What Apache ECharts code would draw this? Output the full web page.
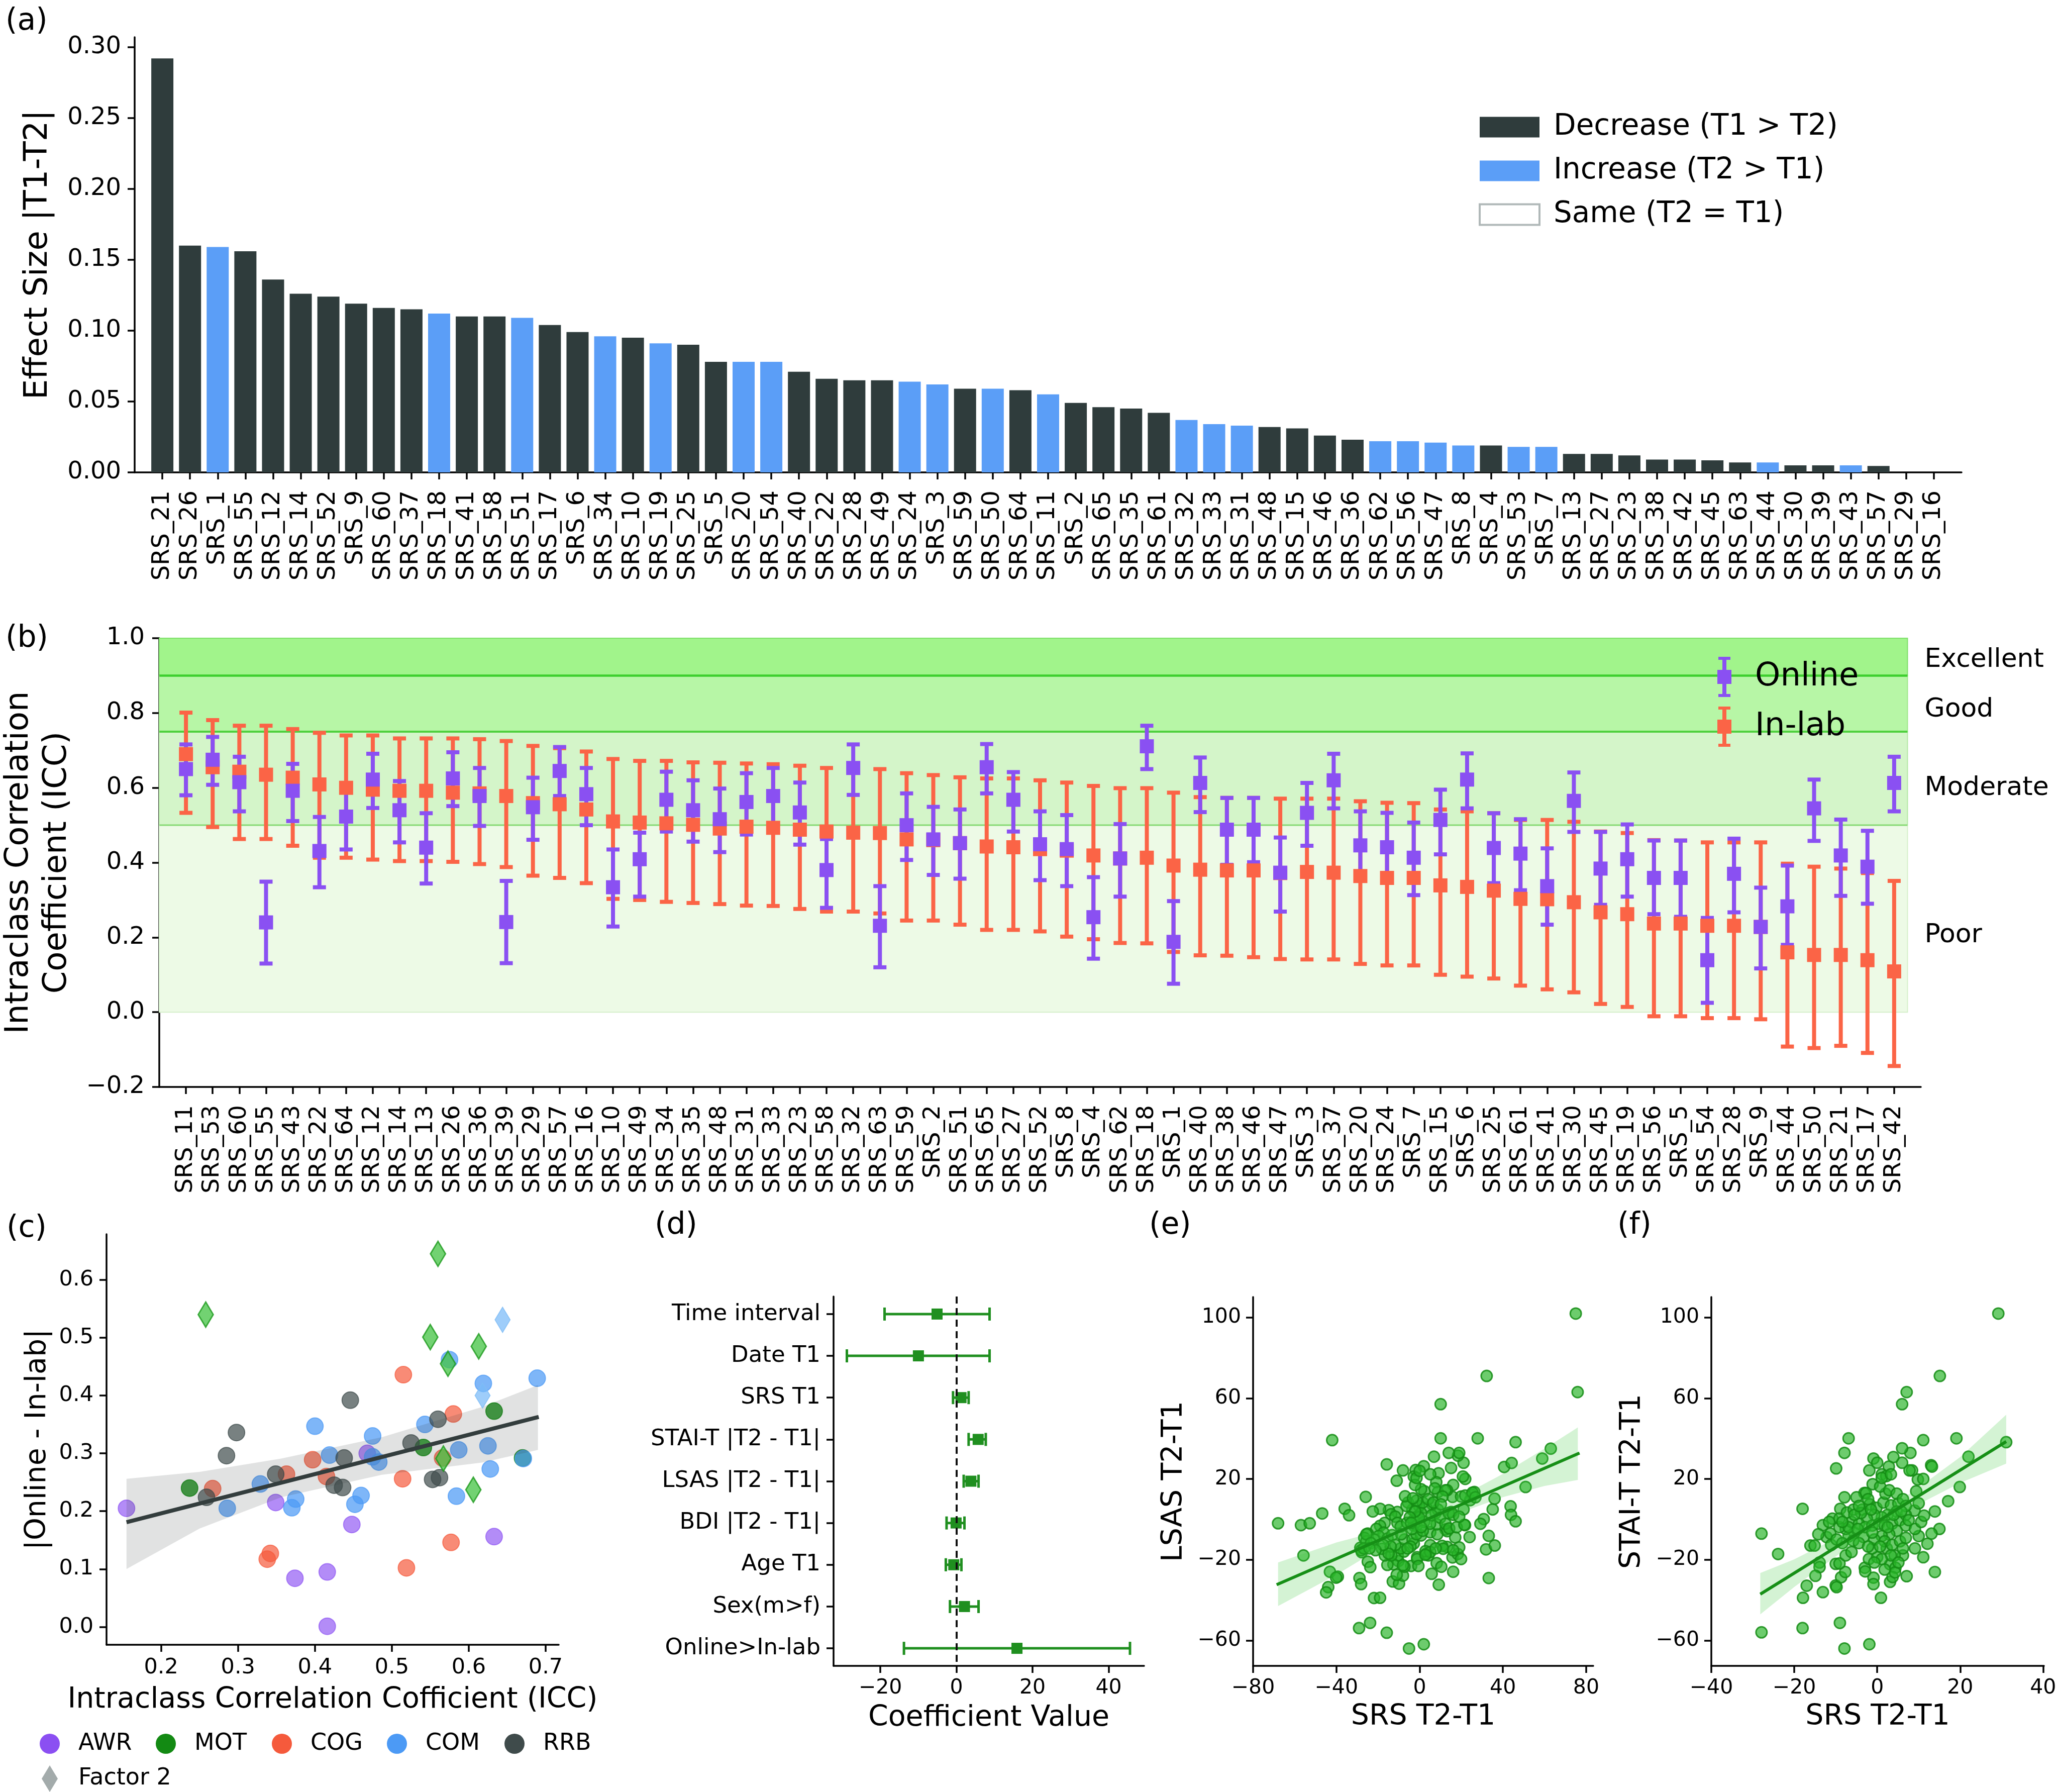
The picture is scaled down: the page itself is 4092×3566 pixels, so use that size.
<!DOCTYPE html>
<html><head><meta charset="utf-8">
<script src="https://cdn.jsdelivr.net/npm/echarts@6/dist/echarts.min.js"></script>
<style>html,body{margin:0;padding:0;background:#fff}#c{width:4092px;height:3566px}</style>
</head><body><div id="c"></div>
<script>
// ---------------- Panel (a) data ----------------
const aNames = ['SRS_21','SRS_26','SRS_1','SRS_55','SRS_12','SRS_14','SRS_52','SRS_9','SRS_60','SRS_37','SRS_18','SRS_41','SRS_58','SRS_51','SRS_17','SRS_6','SRS_34','SRS_10','SRS_19','SRS_25','SRS_5','SRS_20','SRS_54','SRS_40','SRS_22','SRS_28','SRS_49','SRS_24','SRS_3','SRS_59','SRS_50','SRS_64','SRS_11','SRS_2','SRS_65','SRS_35','SRS_61','SRS_32','SRS_33','SRS_31','SRS_48','SRS_15','SRS_46','SRS_36','SRS_62','SRS_56','SRS_47','SRS_8','SRS_4','SRS_53','SRS_7','SRS_13','SRS_27','SRS_23','SRS_38','SRS_42','SRS_45','SRS_63','SRS_44','SRS_30','SRS_39','SRS_43','SRS_57','SRS_29','SRS_16'];
const aEffect = [0.292,0.160,0.159,0.156,0.136,0.126,0.124,0.119,0.116,0.115,0.112,0.110,0.110,0.109,0.104,0.099,0.096,0.095,0.091,0.090,0.078,0.078,0.078,0.071,0.066,0.065,0.065,0.064,0.062,0.059,0.059,0.058,0.055,0.049,0.046,0.045,0.042,0.037,0.034,0.033,0.032,0.031,0.026,0.023,0.022,0.022,0.021,0.019,0.019,0.018,0.018,0.013,0.013,0.012,0.009,0.009,0.0085,0.007,0.007,0.005,0.005,0.005,0.0045,0,0];
const aDirection = ['D','D','I','D','D','D','D','D','D','D','I','D','D','I','D','D','I','D','I','D','D','I','I','D','D','D','D','I','I','D','I','D','I','D','D','D','D','I','I','I','D','D','D','D','I','I','I','I','D','I','I','D','D','D','D','D','D','D','I','D','D','I','D','S','S'];
const aLegendNames = {D:'Decrease (T1 > T2)', I:'Increase (T2 > T1)', S:'Same (T2 = T1)'};
const aTicks = [0,0.05,0.10,0.15,0.20,0.25,0.30];

// ---------------- Panel (b) data ----------------
const bNames = ['SRS_11','SRS_53','SRS_60','SRS_55','SRS_43','SRS_22','SRS_64','SRS_12','SRS_14','SRS_13','SRS_26','SRS_36','SRS_39','SRS_29','SRS_57','SRS_16','SRS_10','SRS_49','SRS_34','SRS_35','SRS_48','SRS_31','SRS_33','SRS_23','SRS_58','SRS_32','SRS_63','SRS_59','SRS_2','SRS_51','SRS_65','SRS_27','SRS_52','SRS_8','SRS_4','SRS_62','SRS_18','SRS_1','SRS_40','SRS_38','SRS_46','SRS_47','SRS_3','SRS_37','SRS_20','SRS_24','SRS_7','SRS_15','SRS_6','SRS_25','SRS_61','SRS_41','SRS_30','SRS_45','SRS_19','SRS_56','SRS_5','SRS_54','SRS_28','SRS_9','SRS_44','SRS_50','SRS_21','SRS_17','SRS_42'];
const onlineICC = [0.650,0.675,0.615,0.240,0.592,0.431,0.523,0.622,0.540,0.440,0.625,0.578,0.241,0.548,0.645,0.583,0.334,0.409,0.568,0.540,0.516,0.562,0.578,0.534,0.380,0.653,0.231,0.500,0.462,0.452,0.655,0.568,0.449,0.436,0.254,0.411,0.711,0.188,0.613,0.488,0.488,0.373,0.533,0.620,0.446,0.441,0.413,0.514,0.622,0.439,0.424,0.337,0.565,0.384,0.409,0.359,0.359,0.139,0.370,0.228,0.283,0.545,0.419,0.389,0.613];
const onlineLo = [0.580,0.608,0.537,0.130,0.511,0.334,0.435,0.546,0.454,0.344,0.551,0.498,0.131,0.461,0.578,0.500,0.229,0.309,0.483,0.456,0.428,0.475,0.498,0.448,0.279,0.581,0.120,0.407,0.367,0.357,0.585,0.483,0.353,0.337,0.143,0.309,0.650,0.076,0.535,0.394,0.401,0.269,0.445,0.545,0.355,0.350,0.313,0.422,0.545,0.345,0.326,0.234,0.482,0.287,0.309,0.262,0.255,0.025,0.267,0.117,0.180,0.458,0.311,0.290,0.537];
const onlineHi = [0.716,0.736,0.683,0.349,0.664,0.522,0.600,0.691,0.618,0.532,0.695,0.653,0.351,0.627,0.709,0.653,0.435,0.480,0.643,0.620,0.598,0.639,0.653,0.614,0.463,0.716,0.337,0.585,0.549,0.542,0.717,0.642,0.537,0.527,0.361,0.503,0.766,0.297,0.681,0.573,0.573,0.467,0.613,0.691,0.537,0.533,0.507,0.595,0.692,0.532,0.516,0.438,0.641,0.482,0.502,0.459,0.459,0.252,0.464,0.333,0.392,0.622,0.515,0.485,0.683];
const inlabICC = [0.690,0.655,0.643,0.635,0.627,0.609,0.600,0.595,0.592,0.592,0.587,0.585,0.578,0.559,0.556,0.542,0.510,0.507,0.505,0.501,0.491,0.496,0.493,0.488,0.483,0.480,0.479,0.462,0.460,0.452,0.443,0.441,0.436,0.432,0.419,0.411,0.413,0.392,0.381,0.379,0.379,0.372,0.375,0.373,0.364,0.359,0.359,0.339,0.335,0.325,0.303,0.302,0.294,0.267,0.262,0.237,0.237,0.231,0.231,0.228,0.160,0.153,0.153,0.139,0.109];
const inlabLo = [0.533,0.495,0.463,0.463,0.445,0.413,0.413,0.408,0.404,0.404,0.402,0.396,0.388,0.365,0.359,0.345,0.303,0.300,0.295,0.292,0.289,0.285,0.284,0.276,0.269,0.269,0.264,0.245,0.245,0.234,0.220,0.220,0.216,0.202,0.195,0.185,0.184,0.161,0.152,0.151,0.147,0.142,0.141,0.141,0.129,0.125,0.125,0.100,0.095,0.090,0.071,0.061,0.053,0.022,0.014,-0.011,-0.011,-0.016,-0.016,-0.019,-0.092,-0.096,-0.090,-0.109,-0.144];
const inlabHi = [0.801,0.781,0.766,0.766,0.757,0.747,0.740,0.740,0.732,0.732,0.732,0.730,0.725,0.712,0.706,0.697,0.677,0.672,0.672,0.668,0.667,0.665,0.663,0.659,0.653,0.650,0.650,0.639,0.634,0.628,0.625,0.625,0.620,0.614,0.605,0.599,0.599,0.587,0.575,0.573,0.573,0.571,0.571,0.571,0.564,0.560,0.559,0.542,0.537,0.532,0.514,0.514,0.509,0.483,0.479,0.460,0.459,0.454,0.454,0.454,0.397,0.389,0.384,0.372,0.351];
const bTicks = [-0.2,0,0.2,0.4,0.6,0.8,1.0];
const bandNames = ['Excellent','Good','Moderate','Poor'];
const bandLower = [0.9,0.75,0.5,0.0];
const bandUpper = [1.0,0.9,0.75,0.5];

// ---------------- Panel (c) data ----------------
const awrICC = [0.155,0.349,0.448,0.374,0.416,0.416,0.633,0.468];
const awrDiff = [0.205,0.215,0.177,0.084,0.095,0.001,0.156,0.300];
const motICC = [0.237,0.541,0.633,0.670];
const motDiff = [0.240,0.310,0.373,0.292];
const cogICC = [0.267,0.342,0.338,0.363,0.397,0.415,0.515,0.514,0.519,0.566,0.580,0.577];
const cogDiff = [0.239,0.127,0.117,0.264,0.289,0.260,0.436,0.256,0.102,0.292,0.368,0.146];
const comICC = [0.286,0.329,0.370,0.375,0.400,0.419,0.452,0.460,0.475,0.475,0.483,0.543,0.575,0.587,0.584,0.619,0.625,0.628,0.671,0.689];
const comDiff = [0.205,0.247,0.206,0.221,0.347,0.297,0.212,0.227,0.330,0.294,0.285,0.350,0.462,0.306,0.226,0.421,0.313,0.273,0.291,0.430];
const rrbICC = [0.259,0.285,0.298,0.349,0.425,0.436,0.438,0.446,0.525,0.553,0.562,0.560];
const rrbDiff = [0.224,0.296,0.336,0.264,0.245,0.241,0.292,0.392,0.318,0.255,0.258,0.359];
const f2GreenICC = [0.258,0.560,0.550,0.613,0.573,0.606,0.567];
const f2GreenDiff = [0.540,0.645,0.501,0.485,0.455,0.237,0.291];
const f2BlueICC = [0.644,0.618];
const f2BlueDiff = [0.531,0.400];
const cFitX = [0.155,0.691];
const cFitY = [0.181,0.363];
const cBandX = [0.155,0.25,0.356,0.487,0.617,0.69];
const cBandLo = [0.100,0.170,0.224,0.263,0.284,0.306];
const cBandHi = [0.256,0.268,0.291,0.328,0.380,0.418];
const cXTicks = [0.2,0.3,0.4,0.5,0.6,0.7];
const cYTicks = [0,0.1,0.2,0.3,0.4,0.5,0.6];

// ---------------- Panel (d) data ----------------
const dLabels = ['Time interval','Date T1','SRS T1','STAI-T |T2 - T1|','LSAS |T2 - T1|','BDI |T2 - T1|','Age T1','Sex(m>f)','Online>In-lab'];
const dCoef = [-5.1,-10.0,1.2,5.7,3.8,-0.1,-0.7,2.1,15.9];
const dLo = [-18.9,-28.8,-0.9,3.2,1.9,-2.6,-2.8,-1.7,-13.8];
const dHi = [8.7,8.7,3.2,7.7,5.8,2.1,1.3,5.8,45.6];
const dXTicks = [-20,0,20,40];

// ---------------- Panel (e) data ----------------
const eSRS = [75.0,75.9,32.2,10.1,-42.0,10.1,27.9,46.1,63.0,58.9,40.6,44.2,50.9,-68.0,-57.0,-52.8,-46.8,-36.0,-33.9,-55.8,-25.9,-43.1,-39.3,-40.1,-43.9,-44.9,-28.9,-28.1,-28.5,-27.8,-24.9,-23.7,-21.9,-19.0,-29.1,-23.8,-15.8,-5.1,2.0,-12.9,-9.9,-8.0,9.2,5.8,8.2,10.4,16.1,33.2,31.9,36.1,33.2,24.0,30.8,35.1,36.0,43.7,43.9,46.1,25.1,26.3,21.9,20.8,21.1,18.4,19.0,14.0,15.1,6.9,2.0,-1.9,-2.8,-8.0,-11.0,-15.8,9.1,8.0,5.1,2.3,16.1,15.8,19.9,24.3,21.1,15.2,21.8,12.4,13.2,17.1,15.8,18.3,19.9,13.2,10.8,11.3,5.1,3.2,4.2,-1.2,-4.1,-10.2,-10.5,-12.6,-15.5,-16.7,-18.1,-7.5,-9.1,-13.6,-7.3,-2.8,-3.4,0.7,5.1,8.5,8.2,7.7,8.8,6.1,3.2,-0.3,-3.5,-5.6,-6.3,-7.0,-10.7,-14.8,-13.7,-19.0,-11.7,-10.7,-9.1,-6.0,-2.9,-1.2,0.7,-2.9,-1.5,2.2,5.0,5.8,9.9,12.4,14.2,17.8,21.5,19.0,16.1,-16.8,-19.0,-20.8,-17.3,-19.7,-24.9,-26.6,-25.6,-21.9,-15.4,-13.2,-11.7,-13.9,-7.3,-8.0,-11.0,-14.9,-17.5,-1.2,-0.6,2.8,5.1,2.8,7.7,-4.4,-5.8,-8.8,-1.5,-3.7,1.5,1.5,4.1,6.6,8.8,13.2,7.3,0.7,-2.2,-1.5,0.0,12.4,11.0,10.2,13.9,16.1,19.0,21.9,25.4,26.8,29.2,-1.5,-3.2,-0.3,-2.2,-4.7,-4.1,0.7,-22.5,-25.6,-23.4,-21.2,-28.1,-26.8,-24.1];
const eLSAS = [101.9,63.0,71.0,57.0,39.2,40.1,40.1,38.2,35.0,30.1,25.9,27.9,16.0,-2.0,-2.9,-2.0,2.9,5.2,2.0,-17.9,11.1,-26.0,-28.4,-28.9,-33.6,-36.2,-29.1,-32.1,-14.1,-16.3,-21.0,-23.7,-39.0,-38.9,-53.9,-51.3,-56.2,-64.0,-61.9,-30.8,-31.9,-27.9,-32.4,-27.0,-21.7,-23.5,-26.0,-29.1,-14.9,-13.0,-8.2,-8.8,0.1,4.9,10.2,6.4,2.2,-1.0,12.3,13.5,20.0,21.2,28.0,31.5,32.9,32.9,25.4,31.0,26.3,24.4,21.2,24.2,19.1,27.2,22.8,18.4,22.3,13.9,17.0,11.1,11.3,9.5,4.9,3.6,-2.9,-5.0,-5.9,-9.0,-18.9,-17.2,-19.7,-13.7,-13.2,-14.6,-12.8,-17.0,-17.9,-18.8,-23.1,-20.7,-17.9,-22.3,-22.6,-17.9,-14.6,-16.0,-14.4,-17.9,-10.0,-12.0,-10.0,-8.0,-6.4,-7.4,-2.5,3.1,4.8,7.4,5.7,6.6,4.8,8.3,6.6,11.4,3.6,4.5,2.5,5.2,1.3,-1.8,-3.6,-1.7,-0.4,1.3,3.1,-3.1,-3.1,-1.3,-2.2,2.0,0.8,-2.2,-4.5,-3.9,-2.7,-13.9,-15.3,-1.8,-3.2,-4.8,-6.6,-8.3,-7.1,-9.2,-10.9,-10.0,-9.5,-7.8,-12.7,-13.5,-23.5,-22.8,-27.5,-17.0,-12.7,-19.7,-23.1,-15.8,-16.2,-17.6,-14.4,-13.5,-14.4,-7.4,-7.4,-4.8,-5.7,8.3,10.0,8.3,13.5,14.4,15.3,14.9,17.0,20.5,24.0,14.4,11.3,7.4,3.1,2.2,1.3,11.8,13.2,10.9,-2.2,9.2,10.4,1.0,3.9,1.0,-1.8,-3.9,3.9,-7.4,-11.8,-15.3,-15.3,-14.4,-14.4];
const eFitX = [-68.7,76.8];
const eFitY = [-32.4,32.8];
const eBandX = [-68,-40,-20,0,20,40,60,76];
const eBandLo = [-43.0,-27.5,-15.0,-4.5,3.5,11.0,16.5,19.5];
const eBandHi = [-21.4,-11.5,-6.0,1.5,11.5,22.5,35.0,45.5];
const eXTicks = [-80,-40,0,40,80];
const efYTicks = [-60,-20,20,60,100];

// ---------------- Panel (f) data ----------------
const fSRS = [29.2,15.1,7.1,6.0,-6.9,-7.9,-9.9,11.1,19.1,31.1,22.0,13.0,13.2,19.9,17.1,13.9,15.0,13.1,12.1,13.9,11.1,7.1,10.0,9.0,10.0,9.4,9.8,11.1,8.4,7.8,8.0,6.0,6.0,3.9,2.8,-0.9,0.0,-1.9,1.1,-1.1,-3.1,-5.0,-7.9,-8.9,-18.0,-27.9,-23.9,-16.1,-15.1,-13.1,-10.8,-12.2,-11.1,-13.9,-13.9,-14.9,-17.0,-17.9,-13.1,-10.0,-9.8,-8.7,-7.7,-10.0,-9.1,-9.0,-18.0,-27.9,-7.9,-1.9,0.9,-0.9,-0.9,-3.0,-2.0,0.0,3.1,4.4,3.1,3.7,4.3,6.2,4.2,2.3,-1.2,-3.3,-5.5,-6.9,-7.6,-6.2,-9.1,-9.1,-7.3,-5.7,-3.6,-1.8,-0.2,1.5,3.3,5.1,4.7,2.5,1.1,-0.7,-2.5,-4.4,-2.9,-1.2,0.4,1.8,3.6,5.5,6.9,6.9,4.7,2.9,1.1,-0.7,1.8,3.6,5.5,6.9,9.1,7.6,10.6,11.3,2.0,0.7,2.9,4.7,6.2,6.9,2.2,1.1,3.3,-2.7,-3.9,-5.5,-4.4,-11.3,-9.8,-8.4,-5.8,-4.4,-2.2,0.7,6.2,9.1,3.3,1.1,-0.7,-2.9,1.8,5.1,-7.6,-6.2,-6.9,-8.4,-11.6,-14.2,-4.7,-1.2,2.5,4.0,5.8,-1.5,-2.2];
const fSTAI = [101.9,71.0,63.0,57.0,40.1,32.9,25.2,39.2,40.1,38.2,31.0,26.8,26.1,16.0,9.0,3.9,-4.8,-7.1,-12.1,-26.1,-18.8,-28.2,-8.3,4.3,7.9,13.9,19.7,20.0,24.2,24.2,32.9,35.2,28.0,30.8,26.1,30.1,28.0,24.2,22.3,17.4,13.0,10.9,10.9,5.2,5.2,-7.1,-17.2,-13.0,-13.0,-2.9,0.3,-8.8,-12.7,-21.4,-23.7,-28.0,-32.9,-38.9,-36.1,-32.8,-33.6,-28.7,-26.1,-22.1,-21.9,-51.3,-53.9,-56.0,-64.0,-61.9,-38.9,-28.9,-32.1,-24.0,-19.7,-18.8,-22.3,-24.0,-31.0,-28.6,-26.3,-17.9,-17.9,-14.4,-14.4,-8.8,-6.6,-8.5,-4.8,-1.3,-3.9,0.4,3.4,4.8,4.8,7.4,5.7,8.3,6.9,7.9,3.9,2.2,1.0,2.2,0.4,-2.2,-3.9,-3.1,-2.2,-3.1,-2.2,-0.4,2.2,-3.1,-5.7,-7.4,-8.3,-10.0,-10.9,-12.7,-10.9,-9.2,-4.8,-0.4,-1.3,1.8,12.7,16.2,14.4,12.7,10.0,6.6,21.4,20.5,22.3,13.0,3.1,2.2,6.6,-7.1,-10.0,-11.8,-10.6,-11.8,-13.5,-13.5,-14.4,-14.4,-17.9,-19.7,-21.4,-25.8,-24.9,-21.4,-17.9,-16.2,-3.9,-1.3,-1.3,-7.4,-4.8,-6.6,-3.9,2.2,3.9,4.8,10.0];
const fFitX = [-28.2,31.1];
const fFitY = [-37.1,38.5];
const fBandX = [-28.2,-20,-10,0,10,20,31.1];
const fBandLo = [-47.1,-33.5,-18.4,-4.3,7.5,18.0,27.6];
const fBandHi = [-26.6,-19.8,-9.4,2.1,15.7,30.8,51.8];
const fXTicks = [-40,-20,0,20,40];

// ---------------- helpers ----------------
const FONT = 'DejaVu Sans';
const BLACK = '#000';
const fmt = (v, d) => (v < -1e-9 ? '\u2212' : '') + Math.abs(v).toFixed(d);

function valAxis(o) {
  const ticks = o.ticks;
  const lab = Object.assign({ color: BLACK, fontFamily: FONT, fontSize: 42, customValues: ticks }, o.label || {});
  const ax = {
    type: 'value', gridIndex: o.grid, min: o.min, max: o.max, inverse: !!o.inverse,
    nameMoveOverlap: false,
    axisLine: { show: true, onZero: false, lineStyle: { color: BLACK, width: 3.5 } },
    axisTick: { show: true, length: 14, customValues: ticks, lineStyle: { color: BLACK, width: 3.5 } },
    splitLine: { show: false },
    axisLabel: lab
  };
  if (o.name) {
    ax.name = o.name; ax.nameLocation = 'middle'; ax.nameGap = o.nameGap;
    ax.nameTextStyle = Object.assign({ color: BLACK, fontFamily: FONT, fontSize: 57 }, o.nameStyle || {});
  }
  return ax;
}

function vErr(color, lw, cap) {
  return function (params, api) {
    const x = api.value(0), lo = api.value(1), hi = api.value(2);
    const a = api.coord([x, lo]), b = api.coord([x, hi]);
    const st = { stroke: color, lineWidth: lw };
    return { type: 'group', children: [
      { type: 'line', shape: { x1: a[0], y1: a[1], x2: b[0], y2: b[1] }, style: st },
      { type: 'line', shape: { x1: a[0] - cap / 2, y1: a[1], x2: a[0] + cap / 2, y2: a[1] }, style: st },
      { type: 'line', shape: { x1: b[0] - cap / 2, y1: b[1], x2: b[0] + cap / 2, y2: b[1] }, style: st }
    ]};
  };
}
function hErr(color, lw, cap) {
  return function (params, api) {
    const lo = api.value(0), hi = api.value(1), y = api.value(2);
    const a = api.coord([lo, y]), b = api.coord([hi, y]);
    const st = { stroke: color, lineWidth: lw };
    return { type: 'group', children: [
      { type: 'line', shape: { x1: a[0], y1: a[1], x2: b[0], y2: b[1] }, style: st },
      { type: 'line', shape: { x1: a[0], y1: a[1] - cap / 2, x2: a[0], y2: a[1] + cap / 2 }, style: st },
      { type: 'line', shape: { x1: b[0], y1: b[1] - cap / 2, x2: b[0], y2: b[1] + cap / 2 }, style: st }
    ]};
  };
}
function bandSeries(xi, yi, xs, lo, hi, fill) {
  return {
    type: 'custom', xAxisIndex: xi, yAxisIndex: yi, silent: true, z: 3,
    data: xs.map((x, i) => [x, lo[i], hi[i]]),
    renderItem: function (params, api) {
      if (params.dataIndex !== 0) return null;
      const pts = [];
      xs.forEach((x, i) => pts.push(api.coord([x, hi[i]])));
      for (let i = xs.length - 1; i >= 0; i--) pts.push(api.coord([xs[i], lo[i]]));
      return { type: 'polygon', shape: { points: pts }, style: { fill: fill } };
    }
  };
}
const pairs = (xs, ys) => xs.map((x, i) => [x, ys[i]]);

// ---------------- colours ----------------
const cDecrease = '#2f3c3c', cIncrease = '#5b9ef7';
const cOnline = '#8a50f2', cInlab = '#fb6446';
const bandFill = ['#a1f48b', '#b7f6a6', '#d4f5c9', '#edfae6'];
const bandEdge = ['#7fe06a', '#9fe98c', '#b5e9a6', '#d5f0cb'];
const bandLineColor = ['#3ccf2c', '#4fd03e', '#86da74'];
const bandLineWidth = [4.5, 4, 3];
const bandLabelDy = [6, 12, 19, 33];
const catColor = { AWR: '#8b4ff2', MOT: '#138a13', COG: '#f55a3c', COM: '#4c9af5', RRB: '#3f4b4b' };
const greenPt = 'rgba(40,180,40,0.68)', greenEdge = 'rgba(20,140,20,0.85)';

// ---------------- option ----------------
const errIcon = 'path://M2,0H26V6H18V26H28V54H18V74H26V80H2V74H10V54H0V26H10V6H2Z';

const series = [];

// (a) bars
['D', 'I', 'S'].forEach(k => {
  const style = k === 'D' ? { color: cDecrease } : k === 'I' ? { color: cIncrease } : { color: 'rgba(255,255,255,0)', borderWidth: 0 };
  series.push({
    type: 'bar', name: aLegendNames[k], xAxisIndex: 0, yAxisIndex: 0, barWidth: 44, barGap: '-100%',
    itemStyle: style,
    data: aNames.map((n, i) => aDirection[i] === k ? [i, aEffect[i]] : null).filter(d => d)
  });
});

// (b) bands
series.push({
  type: 'custom', xAxisIndex: 1, yAxisIndex: 1, silent: true, clip: false, z: 1,
  data: bandLower.map((l, i) => [l, bandUpper[i]]),
  renderItem: function (params, api) {
    const i = params.dataIndex;
    const lo = api.value(0), hi = api.value(1);
    const p1 = api.coord([-1, hi]), p2 = api.coord([64.5, lo]);
    const ch = [
      { type: 'rect', shape: { x: p1[0], y: p1[1], width: p2[0] - p1[0], height: p2[1] - p1[1] }, style: { fill: bandFill[i], stroke: bandEdge[i], lineWidth: 2 } },
      { type: 'text', style: { text: bandNames[i], x: p2[0] + 34, y: (p1[1] + p2[1]) / 2 + bandLabelDy[i], verticalAlign: 'middle', align: 'left', fontSize: 52, fontFamily: FONT, fill: BLACK } }
    ];
    if (i < 3) ch.push({ type: 'line', z2: 10, shape: { x1: p1[0], y1: p2[1], x2: p2[0], y2: p2[1] }, style: { stroke: bandLineColor[i], lineWidth: bandLineWidth[i] } });
    return { type: 'group', children: ch };
  }
});
// (b) error bars: In-lab first, Online on top
series.push({ type: 'custom', name: 'In-lab', xAxisIndex: 1, yAxisIndex: 1, z: 3, clip: false,
  data: bNames.map((n, i) => [i, inlabLo[i], inlabHi[i]]), renderItem: vErr(cInlab, 8, 26) });
series.push({ type: 'scatter', name: 'In-lab', xAxisIndex: 1, yAxisIndex: 1, z: 3, symbol: 'rect', symbolSize: 28,
  itemStyle: { color: cInlab, opacity: 1 }, data: bNames.map((n, i) => [i, inlabICC[i]]) });
series.push({ type: 'custom', name: 'Online', xAxisIndex: 1, yAxisIndex: 1, z: 3, clip: false,
  data: bNames.map((n, i) => [i, onlineLo[i], onlineHi[i]]), renderItem: vErr(cOnline, 8, 26) });
series.push({ type: 'scatter', name: 'Online', xAxisIndex: 1, yAxisIndex: 1, z: 3, symbol: 'rect', symbolSize: 28,
  itemStyle: { color: cOnline, opacity: 1 }, data: bNames.map((n, i) => [i, onlineICC[i]]) });

// (c) scatter
const cGroups = [['AWR', awrICC, awrDiff, 0.65], ['MOT', motICC, motDiff, 0.8], ['COG', cogICC, cogDiff, 0.7], ['COM', comICC, comDiff, 0.72], ['RRB', rrbICC, rrbDiff, 0.7]];
cGroups.forEach(g => {
  series.push({ type: 'scatter', name: g[0], xAxisIndex: 2, yAxisIndex: 2, symbol: 'circle', symbolSize: 33, z: 2,
    itemStyle: { color: catColor[g[0]], opacity: g[3], borderColor: catColor[g[0]], borderWidth: 2 },
    data: pairs(g[1], g[2]) });
});
series.push({ type: 'scatter', name: 'Factor 2', xAxisIndex: 2, yAxisIndex: 2, symbol: 'diamond', symbolSize: [30, 50], z: 4,
  itemStyle: { color: 'rgba(70,196,70,0.95)', borderColor: '#1d9a1d', borderWidth: 3 }, data: pairs(f2GreenICC, f2GreenDiff) });
series.push({ type: 'scatter', name: 'Factor 2', xAxisIndex: 2, yAxisIndex: 2, symbol: 'diamond', symbolSize: [30, 50], z: 4,
  itemStyle: { color: 'rgba(120,186,248,0.9)', borderColor: '#80bdf5', borderWidth: 2 }, data: pairs(f2BlueICC, f2BlueDiff) });
series.push(bandSeries(2, 2, cBandX, cBandLo, cBandHi, 'rgba(51,61,61,0.15)'));
series.push({ type: 'line', xAxisIndex: 2, yAxisIndex: 2, symbol: 'none', z: 3, silent: true,
  lineStyle: { color: '#333d3d', width: 8 }, data: pairs(cFitX, cFitY) });

// (d) coefficients
series.push({ type: 'custom', xAxisIndex: 3, yAxisIndex: 3, z: 3,
  data: dLabels.map((n, i) => [dLo[i], dHi[i], i]), renderItem: hErr('#1f8f1f', 5, 26) });
series.push({ type: 'scatter', xAxisIndex: 3, yAxisIndex: 3, z: 3, symbol: 'rect', symbolSize: 22,
  itemStyle: { color: '#1f8f1f', opacity: 1 }, data: dLabels.map((n, i) => [dCoef[i], i]) });
series.push({ type: 'line', xAxisIndex: 3, yAxisIndex: 3, data: [], z: 6,
  markLine: { silent: true, symbol: 'none', label: { show: false },
    lineStyle: { color: '#111', type: [14, 9], width: 4 }, data: [{ xAxis: 0 }] } });

// (e) and (f)
series.push({ type: 'scatter', xAxisIndex: 4, yAxisIndex: 4, symbolSize: 22, z: 2,
  itemStyle: { color: greenPt, borderColor: greenEdge, borderWidth: 3, opacity: 1 }, data: pairs(eSRS, eLSAS) });
series.push(bandSeries(4, 4, eBandX, eBandLo, eBandHi, 'rgba(60,200,60,0.22)'));
series.push({ type: 'line', xAxisIndex: 4, yAxisIndex: 4, symbol: 'none', z: 3, silent: true,
  lineStyle: { color: '#168f16', width: 6 }, data: pairs(eFitX, eFitY) });
series.push({ type: 'scatter', xAxisIndex: 5, yAxisIndex: 5, symbolSize: 22, z: 2,
  itemStyle: { color: greenPt, borderColor: greenEdge, borderWidth: 3, opacity: 1 }, data: pairs(fSRS, fSTAI) });
series.push(bandSeries(5, 5, fBandX, fBandLo, fBandHi, 'rgba(60,200,60,0.22)'));
series.push({ type: 'line', xAxisIndex: 5, yAxisIndex: 5, symbol: 'none', z: 3, silent: true,
  lineStyle: { color: '#168f16', width: 6 }, data: pairs(fFitX, fFitY) });

const idx = n => Array.from({ length: n }, (_, i) => i);

const option = {
  animation: false,
  backgroundColor: '#ffffff',
  textStyle: { fontFamily: FONT },
  title: [
    { text: '(a)', left: 6, top: 8 },
    { text: '(b)', left: 6, top: 1236 },
    { text: '(c)', left: 8, top: 2410 },
    { text: '(d)', left: 1298, top: 2404 },
    { text: '(e)', left: 2282, top: 2404 },
    { text: '(f)', left: 3214, top: 2404 }
  ].map(t => Object.assign(t, { textStyle: { fontFamily: FONT, fontSize: 60, fontWeight: 'normal', color: BLACK } })),
  grid: [
    { left: 268, top: 74, width: 3636, height: 866 },
    { left: 317, top: 1270, width: 3506, height: 893 },
    { left: 212, top: 2456, width: 900, height: 817 },
    { left: 1659, top: 2580, width: 618, height: 735 },
    { left: 2494, top: 2581, width: 677, height: 734 },
    { left: 3406, top: 2581, width: 662, height: 734 }
  ].map(g => Object.assign(g, { containLabel: false, outerBoundsMode: 'none' })),
  xAxis: [
    valAxis({ grid: 0, min: -1, max: 65, ticks: idx(aNames.length),
      label: { fontSize: 48, rotate: 90, margin: 36, formatter: v => aNames[Math.round(v)] } }),
    valAxis({ grid: 1, min: -1, max: 65, ticks: idx(bNames.length),
      label: { fontSize: 47, rotate: 90, margin: 36, formatter: v => bNames[Math.round(v)] } }),
    valAxis({ grid: 2, min: 0.129, max: 0.717, ticks: cXTicks,
      label: { fontSize: 43, margin: 24, formatter: v => fmt(v, 1) },
      name: 'Intraclass Correlation Cofficient (ICC)', nameGap: 82 }),
    valAxis({ grid: 3, min: -32.3, max: 49.3, ticks: dXTicks,
      label: { fontSize: 41, margin: 24, formatter: v => fmt(v, 0) },
      name: 'Coefficient Value', nameGap: 76 }),
    valAxis({ grid: 4, min: -80, max: 83.4, ticks: eXTicks,
      label: { fontSize: 41, margin: 24, formatter: v => fmt(v, 0) },
      name: 'SRS T2-T1', nameGap: 74 }),
    valAxis({ grid: 5, min: -40, max: 40.2, ticks: fXTicks,
      label: { fontSize: 41, margin: 24, formatter: v => fmt(v, 0) },
      name: 'SRS T2-T1', nameGap: 74 })
  ],
  yAxis: [
    valAxis({ grid: 0, min: 0, max: 0.307, ticks: aTicks,
      label: { fontSize: 48, margin: 27, formatter: v => fmt(v, 2) },
      name: 'Effect Size |T1-T2|', nameGap: 160, nameStyle: { fontSize: 64 } }),
    valAxis({ grid: 1, min: -0.2, max: 1.0, ticks: bTicks,
      label: { fontSize: 48, margin: 29, formatter: v => fmt(v, 1) },
      name: 'Intraclass Correlation\nCoefficient (ICC)', nameGap: 165, nameStyle: { fontSize: 64, lineHeight: 76 } }),
    valAxis({ grid: 2, min: -0.031, max: 0.679, ticks: cYTicks,
      label: { fontSize: 43, margin: 26, formatter: v => fmt(v, 1) },
      name: '|Online - In-lab|', nameGap: 108 }),
    valAxis({ grid: 3, min: -0.42, max: 8.42, inverse: true, ticks: idx(dLabels.length),
      label: { fontSize: 45, margin: 26, formatter: v => dLabels[Math.round(v)] } }),
    valAxis({ grid: 4, min: -72.6, max: 110.1, ticks: efYTicks,
      label: { fontSize: 41, margin: 24, formatter: v => fmt(v, 0) },
      name: 'LSAS T2-T1', nameGap: 128 }),
    valAxis({ grid: 5, min: -72.6, max: 110.1, ticks: efYTicks,
      label: { fontSize: 41, margin: 24, formatter: v => fmt(v, 0) },
      name: 'STAI-T T2-T1', nameGap: 128 })
  ],
  legend: [
    { orient: 'vertical', left: 2938, top: 219, itemWidth: 119, itemHeight: 41, itemGap: 29, selectedMode: false,
      textStyle: { fontFamily: FONT, fontSize: 58, color: BLACK, lineHeight: 41, padding: [0, 0, 0, 23] },
      data: [
        { name: aLegendNames.D, icon: 'rect', itemStyle: { color: cDecrease } },
        { name: aLegendNames.I, icon: 'rect', itemStyle: { color: cIncrease } },
        { name: aLegendNames.S, icon: 'rect', itemStyle: { color: '#ffffff', borderColor: '#b0b8b8', borderWidth: 4 } }
      ] },
    { orient: 'vertical', left: 3413, top: 1302, itemWidth: 28, itemHeight: 80, itemGap: 19, selectedMode: false,
      textStyle: { fontFamily: FONT, fontSize: 64, color: BLACK, lineHeight: 80, padding: [0, 0, 0, 42] },
      data: [
        { name: 'Online', icon: errIcon, itemStyle: { color: cOnline, opacity: 1 } },
        { name: 'In-lab', icon: errIcon, itemStyle: { color: cInlab, opacity: 1 } }
      ] }
  ].concat(['AWR', 'MOT', 'COG', 'COM', 'RRB'].map((n, i) => ({
      left: [74, 305, 536, 765, 999][i], top: 3442, itemWidth: 40, itemHeight: 40, selectedMode: false,
      textStyle: { fontFamily: FONT, fontSize: 46, color: BLACK, lineHeight: 40, padding: [0, 0, 0, 32] },
      data: [{ name: n, icon: 'circle', itemStyle: { color: catColor[n], opacity: 1, borderWidth: 0 } }]
    }))).concat([
    { left: 78, top: 3508, itemWidth: 32, itemHeight: 53, selectedMode: false,
      textStyle: { fontFamily: FONT, fontSize: 46, color: BLACK, lineHeight: 53, padding: [0, 0, 0, 36] },
      data: [{ name: 'Factor 2', icon: 'diamond', itemStyle: { color: '#a3abab', opacity: 1, borderWidth: 0 } }] }
  ]),
  series: series
};

const chart = echarts.init(document.getElementById('c'), null, { renderer: 'canvas' });
chart.setOption(option);
</script></body></html>
